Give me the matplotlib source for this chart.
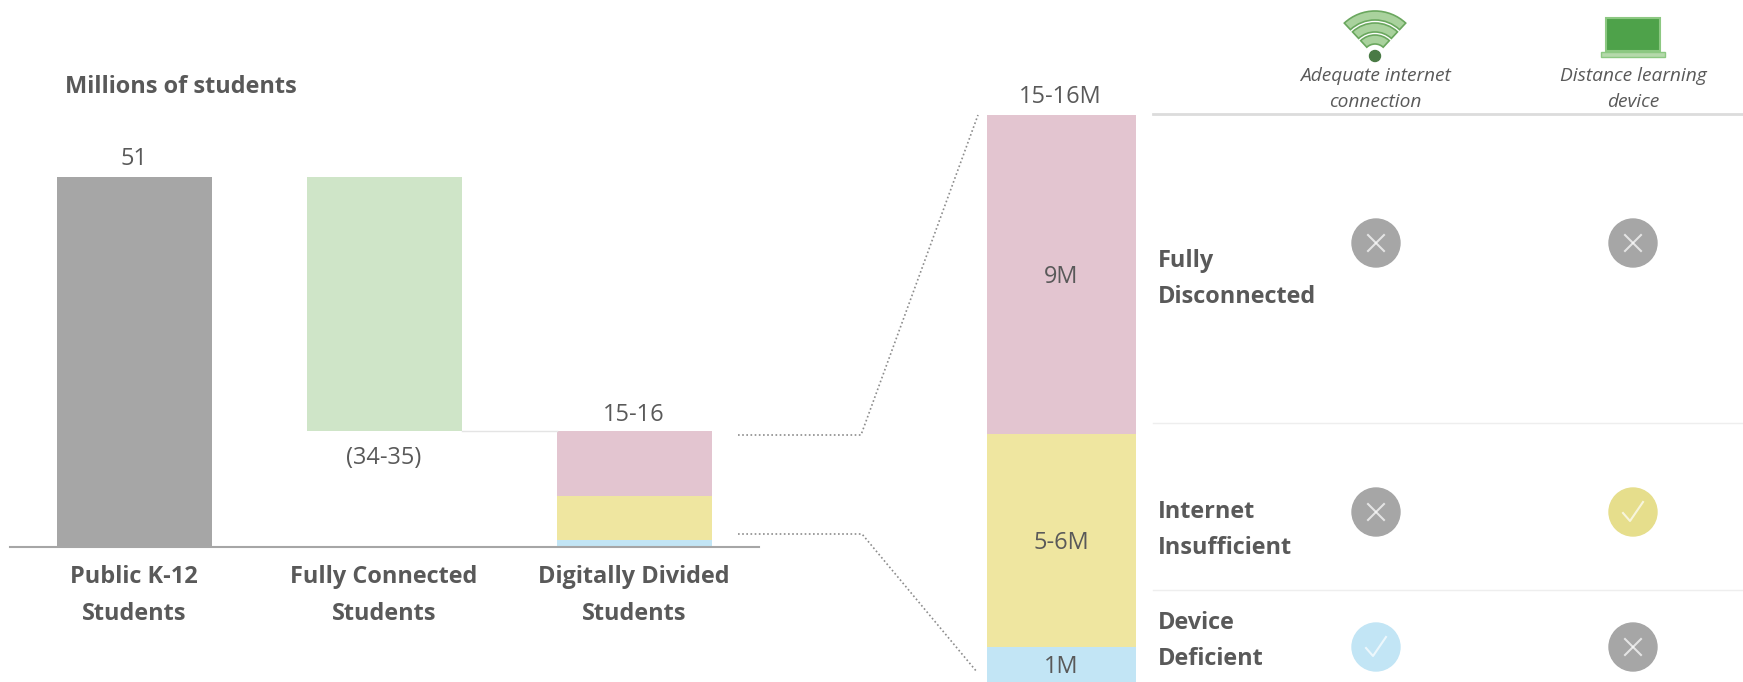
import matplotlib.pyplot as plt
from matplotlib import patches

plt.rcParams["font.family"] = ["Open Sans", "DejaVu Sans"]

W, H = 1743, 682
TEXT = "#595959"
FS = 16.9

# Millions of students
categories = ["Public K-12\nStudents", "Fully Connected\nStudents", "Digitally Divided\nStudents"]
total_students = 51
connected_students = 35
disconnected = 9
insufficient = 6
deficient = 1

segment_names = ["Device\nDeficient", "Internet\nInsufficient", "Fully\nDisconnected"]
segment_values = [deficient, insufficient, disconnected]
segment_labels = ["1M", "5-6M", "9M"]
segment_colors = ["#c2e5f5", "#efe6a0", "#e3c5d0"]

# has adequate internet, has a device (same order as the segments)
has_internet = [True, False, False]
has_device = [False, True, False]
check_colors = ["#c2e5f5", "#e6de8c", "#a6a6a6"]


def px_axes(fig, left, top, right, bottom):
    """Add an axes placed by pixel edges, measured from the top left."""
    return fig.add_axes([left / W, 1 - bottom / H, (right - left) / W, (bottom - top) / H])


fig = plt.figure(figsize=(W / 100, H / 100), dpi=100, facecolor="white")

# ################ left chart ################
ax = px_axes(fig, 9, 177, 759, 547)
ax.set_xlim(-0.5, 2.5)
ax.set_ylim(0, total_students)
ax.axis("off")

divided = sum(segment_values)
ax.bar(0, total_students, width=0.62, color="#a6a6a6")
ax.bar(1, connected_students, bottom=total_students - connected_students, width=0.62, color="#cfe5c8")
bottom = 0
for value, color in zip(segment_values, segment_colors):
    ax.bar(2, value, bottom=bottom, width=0.62, color=color)
    bottom += value
ax.plot([1.31, 1.69], [divided, divided], color="#e4e4e4", lw=1, clip_on=False)
ax.plot([-0.497, 2.5], [0, 0], color="#a6a6a6", lw=1.5, clip_on=False)

ax.annotate("51", (0, total_students), xytext=(0, 4), textcoords="offset points",
            ha="center", va="bottom", fontsize=FS, color=TEXT, annotation_clip=False)
ax.annotate("(34-35)", (1, divided), xytext=(0, -11), textcoords="offset points",
            ha="center", va="top", fontsize=FS, color=TEXT, annotation_clip=False)
ax.annotate("15-16", (2, divided), xytext=(0, 3), textcoords="offset points",
            ha="center", va="bottom", fontsize=FS, color=TEXT, annotation_clip=False)
for i, name in enumerate(categories):
    ax.annotate(name, (i, 0), xytext=(0, -13), textcoords="offset points", ha="center",
                va="top", fontsize=FS, fontweight="bold", color=TEXT, linespacing=1.71,
                annotation_clip=False)

# ################ breakdown bar ################
ax2 = px_axes(fig, 987, 115, 1136, 682)
ax2.set_xlim(-0.5, 0.5)
ax2.set_ylim(0, divided)
ax2.axis("off")
bottom = 0
for value, color, label in zip(segment_values, segment_colors, segment_labels):
    ax2.bar(0, value, bottom=bottom, width=1, color=color)
    ax2.annotate(label, (0, bottom + value / 2), xytext=(0, -2), textcoords="offset points",
                 ha="center", va="center", fontsize=FS, color=TEXT)
    bottom += value
ax2.annotate("15-16M", (0, divided), xytext=(-1, 4), textcoords="offset points",
             ha="center", va="bottom", fontsize=FS, color=TEXT, annotation_clip=False)

# ################ overlay in pixel coordinates ################
ov = fig.add_axes([0, 0, 1, 1], facecolor="none")
ov.set_xlim(0, W)
ov.set_ylim(H, 0)
ov.axis("off")

ov.text(65, 87, "Millions of students", fontsize=FS, fontweight="bold", color=TEXT, va="center")

# dotted connectors between the stacked bar and the breakdown
dots = dict(color="#8c8c8c", lw=1.2, ls=(0, (1, 1.5)))
ov.plot([738, 861, 978], [435, 435, 115], **dots)
ov.plot([738, 862, 977], [534, 534, 672], **dots)

# table rules
ov.plot([1153, W], [114, 114], color="#dcdcdc", lw=2)
ov.plot([1153, W], [423, 423], color="#eeeeee", lw=1)
ov.plot([1153, W], [590, 590], color="#eeeeee", lw=1)

# wifi icon
wifi_x, wifi_y = 1375, 56
for r in (21, 33, 45):
    ov.add_patch(patches.Wedge((wifi_x, wifi_y), r, 227, 313, width=9,
                               facecolor="#a9d29d", edgecolor="#6aa75e", lw=1.2))
ov.add_patch(patches.Circle((wifi_x, wifi_y), 5.5, color="#4a7a45"))

# laptop icon
ov.add_patch(patches.Rectangle((1606, 18), 54, 33, facecolor="#4ea24a", edgecolor="#8cc882", lw=1.5))
ov.add_patch(patches.Rectangle((1601, 52), 64, 5, facecolor="#b5d9ab", edgecolor="#8cc882", lw=1))

ov.text(1375, 89, "Adequate internet\nconnection", fontsize=13.8, style="italic", color=TEXT,
        ha="center", va="center", linespacing=1.56)
ov.text(1633, 89, "Distance learning\ndevice", fontsize=13.8, style="italic", color=TEXT,
        ha="center", va="center", linespacing=1.56)

# one row per segment, bottom row first
row_label_y = [641, 530, 279]
row_icon_y = [647, 512, 243]
icon_x = [1376, 1633]
for i, name in enumerate(segment_names):
    ov.text(1158, row_label_y[i], name, fontsize=FS, fontweight="bold", color=TEXT,
            va="center", linespacing=1.71)
    for x, ok in zip(icon_x, (has_internet[i], has_device[i])):
        y = row_icon_y[i]
        ov.add_patch(patches.Circle((x, y), 24, color=check_colors[i] if ok else "#a6a6a6"))
        if ok:
            ov.plot([x - 10, x - 3, x + 10], [y + 1, y + 9, y - 10], color="white", lw=1.5, alpha=0.7)
        else:
            ov.plot([x - 8, x + 8], [y - 8, y + 8], color="white", lw=1.5, alpha=0.7)
            ov.plot([x - 8, x + 8], [y + 8, y - 8], color="white", lw=1.5, alpha=0.7)

fig.savefig("out.png", dpi=100)
